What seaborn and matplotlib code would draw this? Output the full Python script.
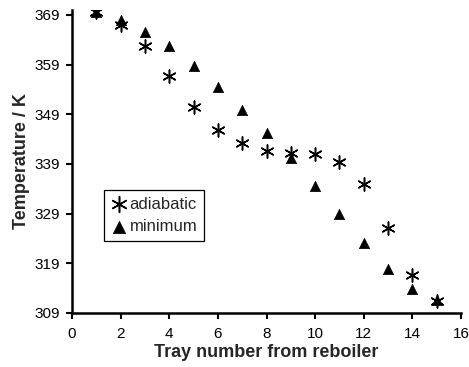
import numpy as np
import pandas as pd
import matplotlib
matplotlib.use("Agg")
import matplotlib.pyplot as plt
import seaborn as sns

# Tray numbers and temperatures
trays = [1, 2, 3, 4, 5, 6, 7, 8, 9, 10, 11, 12, 13, 14, 15]
adiabatic = [369.6, 367.0, 362.8, 356.7, 350.5, 345.9, 343.2, 341.7, 341.3, 341.1,
             339.3, 335.0, 326.2, 316.6, 311.4]
minimum = [369.6, 368.0, 365.6, 362.7, 358.7, 354.4, 349.8, 345.3, 340.2, 334.5,
           328.9, 323.0, 317.9, 313.8, 311.6]

sns.set_style("ticks")
plt.rcParams['font.family'] = ['Liberation Sans', 'DejaVu Sans']

fig = plt.figure(figsize=(4.69, 3.67), dpi=100)
ax = fig.add_axes([72 / 469, (367 - 313) / 367, (461 - 72) / 469, (313 - 10) / 367])

df = pd.DataFrame({'tray': trays, 'adiabatic': adiabatic, 'minimum': minimum})

sns.scatterplot(data=df, x='tray', y='adiabatic', ax=ax, marker=(6, 2, 0),
                color='black', s=90, linewidth=1.1, label='adiabatic', zorder=3)
sns.scatterplot(data=df, x='tray', y='minimum', ax=ax, marker='^',
                color='black', edgecolor='black', s=55, linewidth=0.5,
                label='minimum', zorder=2)

ax.set_xlim(0, 16)
ax.set_ylim(309, 370)
ax.set_xticks(np.arange(0, 17, 2))
ax.set_yticks(np.arange(309, 370, 10))

ax.set_xlabel('Tray number from reboiler', fontsize=13, fontweight='bold', labelpad=2)
ax.set_ylabel('Temperature / K', fontsize=13, fontweight='bold', labelpad=3)
ax.tick_params(axis='both', labelsize=11, width=1.5, length=4, direction='out',
               color='black', labelcolor='black')
ax.tick_params(axis='x', pad=6)
ax.tick_params(axis='y', pad=5)

sns.despine(ax=ax)
for side in ['left', 'bottom']:
    ax.spines[side].set_linewidth(1.8)
    ax.spines[side].set_color('black')

leg = ax.legend(loc='lower left', bbox_to_anchor=(0.082, 0.238), fontsize=12,
                frameon=True, fancybox=False, framealpha=1, edgecolor='black',
                handletextpad=0.15, handlelength=1.0, borderpad=0.4,
                labelspacing=0.45, borderaxespad=0, markerscale=1.2)
leg.get_frame().set_linewidth(0.9)

fig.savefig('out.png', dpi=100)
